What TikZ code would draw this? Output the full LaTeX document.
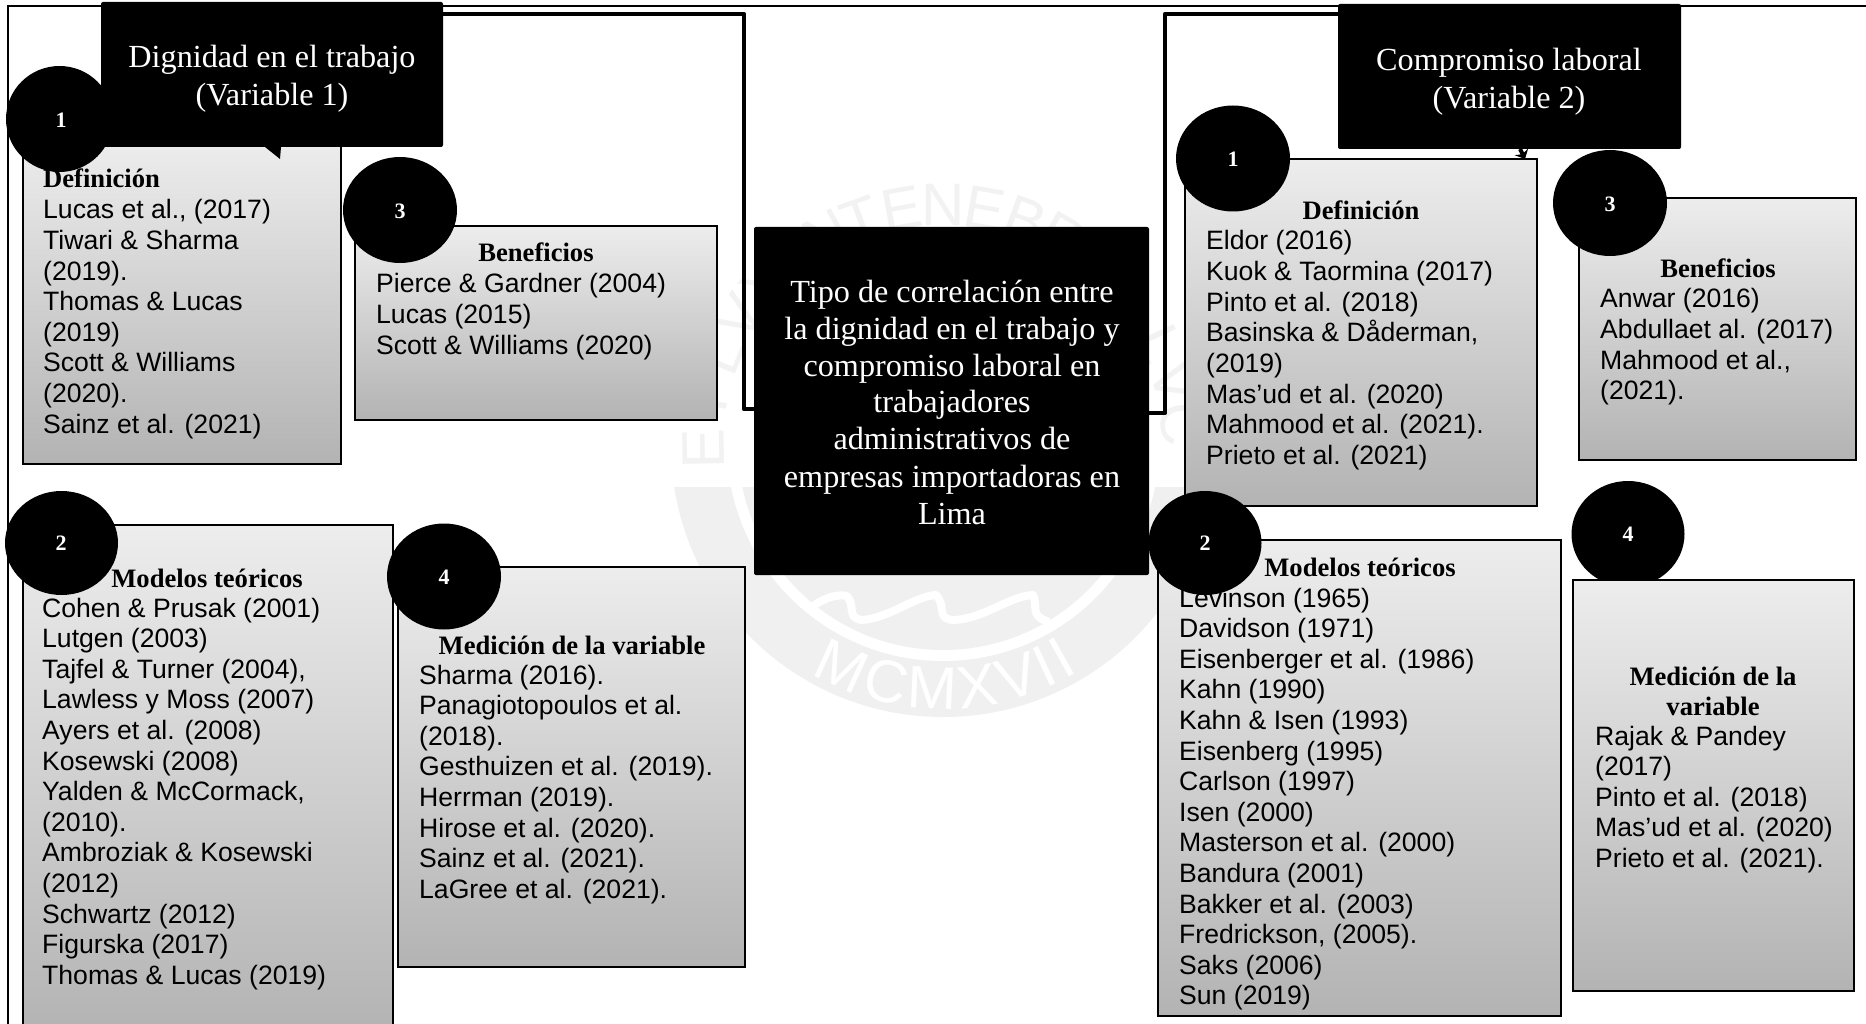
\documentclass[tikz,border=0pt]{standalone}
\usepackage{fontspec}
\setmainfont{Liberation Serif}
\setsansfont{Liberation Sans}
\usetikzlibrary{shapes.geometric,arrows.meta,decorations.text,calc}
\definecolor{wm}{HTML}{F0F0F0}
\definecolor{wmtop}{HTML}{F2F2F2}
\definecolor{gtop}{HTML}{EDEDED}
\definecolor{gbot}{HTML}{B3B3B3}
\newcommand{\reflines}[1]{\begin{tabular}[t]{@{}l@{}}#1\end{tabular}}
\newcommand{\centlines}[1]{\begin{tabular}[t]{@{}c@{}}#1\end{tabular}}
\tikzset{
  gbox/.style={draw=black,line width=1.8pt,top color=gtop,bottom color=gbot,anchor=north west,inner sep=0pt,outer sep=0pt},
  blackbox/.style={fill=black,rounded corners=2pt,anchor=north west,inner sep=0pt,outer sep=0pt},
  numdot/.style={ellipse,fill=black,inner sep=0pt,outer sep=0pt},
  numtext/.style={text=white,inner sep=0pt,font=\rmfamily\bfseries\fontsize{22}{24}\selectfont},
  reftext/.style={anchor=base west,inner sep=0pt,font=\sffamily\fontsize{26.6}{30.6}\selectfont},
  headtext/.style={anchor=base,inner sep=0pt,font=\rmfamily\bfseries\fontsize{26.6}{30.6}\selectfont},
  whitetext/.style={anchor=base,inner sep=0pt,text=white,font=\rmfamily\fontsize{32.2}{37}\selectfont},
  vartext/.style={anchor=base,inner sep=0pt,text=white,font=\rmfamily\fontsize{32.2}{38}\selectfont},
  conn/.style={draw=black,line width=4.5pt,line join=round},
  sealletter/.style={inner sep=0pt,text=wmtop,font=\sffamily\fontsize{60}{60}\selectfont},
}
\begin{document}
\begin{tikzpicture}[x=1pt,y=-1pt]
\useasboundingbox (0,0) rectangle (1866,1024);
\fill[white] (0,0) rectangle (1866,1024);
% watermark seal
\begin{scope}
  \clip (600,487) rectangle (1300,800);
  \begin{scope}[shift={(943,445)}]
    \fill[wm] (0,0) circle[radius=272pt];
    \fill[white] (0,0) circle[radius=216pt];
    \fill[wm] (0,0) circle[radius=205pt];
  \end{scope}
\end{scope}
\begin{scope}[shift={(943,445)},y=1pt]
  \foreach \l/\a [count=\i] in {E/181,T/170,L/158,V/148,X/138,I/128,N/119,T/110,E/100,N/90,E/80,B/70,R/60,L/25,V/15,C/5}
    \node[sealletter,rotate=\a-90] (seal\i) at (\a:240) {\l};
  \path[decorate,decoration={text along path,text align={fit to path},
     text={|\color{white}\sffamily\fontsize{60}{60}\selectfont|MCMXVII}}]
     (240:264) arc[start angle=240,end angle=301,radius=264pt];
\end{scope}
\draw[white,line width=8pt,line cap=round,line join=round]
  (812,607) .. controls (825,597) and (838,594) .. (847,596)
  .. controls (856,606) and (846,618) .. (862,620)
  .. controls (890,618) and (915,596) .. (936,595)
  .. controls (947,606) and (935,620) .. (955,620)
  .. controls (985,618) and (1010,596) .. (1033,595)
  .. controls (1038,606) and (1030,616) .. (1047,621);
% frame
\coordinate (frameTL) at (8,6);
\coordinate (frameTR) at (1866,6);
\coordinate (frameBL) at (8,1024);
\draw[black,line width=2pt] (frameBL) -- (frameTL) -- (frameTR);
% circle behind box
\node[numdot,minimum width=113pt,minimum height=106pt] (cRd) at (1628,534) {};
% gradient boxes
\node[gbox,minimum width=318pt,minimum height=324pt] (boxLa) at (23,140) {};
\node[gbox,minimum width=362pt,minimum height=194pt] (boxLb) at (355,226) {};
\node[gbox,minimum width=370pt,minimum height=510pt] (boxLc) at (23,525) {};
\node[gbox,minimum width=347pt,minimum height=400pt] (boxLd) at (398,567) {};
\node[gbox,minimum width=352pt,minimum height=347pt] (boxRa) at (1185,159) {};
\node[gbox,minimum width=277pt,minimum height=262pt] (boxRb) at (1579,198) {};
\node[gbox,minimum width=403pt,minimum height=476pt] (boxRc) at (1158,540) {};
\node[gbox,minimum width=281pt,minimum height=411pt] (boxRd) at (1573,580) {};
% black boxes
\node[blackbox,minimum width=342pt,minimum height=145pt] (varA) at (101,2) {};
\node[blackbox,minimum width=343pt,minimum height=145pt] (varB) at (1338,4) {};
\node[blackbox,minimum width=395pt,minimum height=348pt] (centre) at (754,227) {};
\fill[black] ($(varA.south west)+(164,0)$) -- ($(varA.south west)+(180,0)$) -- ($(varA.south west)+(179,12)$) -- cycle;
% connectors
\coordinate (kneeA1) at (744,14);
\coordinate (kneeA2) at (744,409);
\coordinate (kneeB1) at (1165,14);
\coordinate (kneeB2) at (1165,413);
\draw[conn] (varA.east |- kneeA1) -- (kneeA1) -- (kneeA2) -- (centre.west |- kneeA2);
\draw[conn] (varB.west |- kneeB1) -- (kneeB1) -- (kneeB2) -- (centre.east |- kneeB2);
\coordinate (arrowS) at (1520,0);
\coordinate (arrowE) at (1525,0);
\draw[black,line width=4pt,-{Stealth[length=8pt,width=15pt]}] (varB.south -| arrowS) -- (boxRa.north -| arrowE);
% black box text
\node[vartext] (tA) at (272,68) {\centlines{Dignidad en el trabajo\\(Variable 1)}};
\node[vartext] (tB) at (1509,71) {\centlines{Compromiso laboral\\(Variable 2)}};
\node[whitetext] (tC) at (952,302) {\centlines{Tipo de correlación entre\\la dignidad en el trabajo y\\compromiso laboral en\\trabajadores\\administrativos de\\empresas importadoras en\\Lima}};
% reference text
\node[headtext,anchor=base west] (hLa) at (43,188) {Definición};
\node[reftext] (rLa) at (43,219) {\reflines{Lucas et al., (2017)\\Tiwari \& Sharma\\(2019).\\Thomas \& Lucas\\(2019)\\Scott \& Williams\\(2020).\\Sainz et al. (2021)}};
\node[headtext] (hLb) at (536,262) {Beneficios};
\node[reftext] (rLb) at (376,293) {\reflines{Pierce \& Gardner (2004)\\Lucas (2015)\\Scott \& Williams (2020)}};
\node[headtext] (hLc) at (207,587) {Modelos teóricos};
\node[reftext] (rLc) at (42,617) {\reflines{Cohen \& Prusak (2001)\\Lutgen (2003)\\Tajfel \& Turner (2004),\\Lawless y Moss (2007)\\Ayers et al. (2008)\\Kosewski (2008)\\Yalden \& McCormack,\\(2010).\\Ambroziak \& Kosewski\\(2012)\\Schwartz (2012)\\Figurska (2017)\\Thomas \& Lucas (2019)}};
\node[headtext] (hLd) at (572,654) {Medición de la variable};
\node[reftext] (rLd) at (419,684) {\reflines{Sharma (2016).\\Panagiotopoulos et al.\\(2018).\\Gesthuizen et al. (2019).\\Herrman (2019).\\Hirose et al. (2020).\\Sainz et al. (2021).\\LaGree et al. (2021).}};
\node[headtext] (hRa) at (1361,220) {Definición};
\node[reftext] (rRa) at (1206,250) {\reflines{Eldor (2016)\\Kuok \& Taormina (2017)\\Pinto et al. (2018)\\Basinska \& Dåderman,\\(2019)\\Mas’ud et al. (2020)\\Mahmood et al. (2021).\\Prieto et al. (2021)}};
\node[headtext] (hRb) at (1718,278) {Beneficios};
\node[reftext] (rRb) at (1600,308) {\reflines{Anwar (2016)\\Abdullaet al. (2017)\\Mahmood et al.,\\(2021).}};
\node[headtext] (hRc) at (1360,576) {Modelos teóricos};
\node[reftext] (rRc) at (1179,607) {\reflines{Levinson (1965)\\Davidson (1971)\\Eisenberger et al. (1986)\\Kahn (1990)\\Kahn \& Isen (1993)\\Eisenberg (1995)\\Carlson (1997)\\Isen (2000)\\Masterson et al. (2000)\\Bandura (2001)\\Bakker et al. (2003)\\Fredrickson, (2005).\\Saks (2006)\\Sun (2019)}};
\node[headtext] (hRd) at (1713,685) {\centlines{Medición de la\\variable}};
\node[reftext] (rRd) at (1595,745) {\reflines{Rajak \& Pandey\\(2017)\\Pinto et al. (2018)\\Mas’ud et al. (2020)\\Prieto et al. (2021).}};
% number circles
\node[numdot,minimum width=107pt,minimum height=106pt] (cLa) at (59.5,119) {};
\node[numdot,minimum width=114pt,minimum height=106pt] (cLb) at (400,210) {};
\node[numdot,minimum width=113pt,minimum height=104pt] (cLc) at (61.5,543) {};
\node[numdot,minimum width=114pt,minimum height=106pt] (cLd) at (444,576.5) {};
\node[numdot,minimum width=114pt,minimum height=106pt] (cRa) at (1233,158.5) {};
\node[numdot,minimum width=114pt,minimum height=106pt] (cRb) at (1610,203) {};
\node[numdot,minimum width=113pt,minimum height=104pt] (cRc) at (1205,543) {};
\node[numtext] (nLa) at (61,120) {1};
\node[numtext] (nLb) at (400,211) {3};
\node[numtext] (nLc) at (61,543) {2};
\node[numtext] (nLd) at (444,577) {4};
\node[numtext] (nRa) at (1233,159) {1};
\node[numtext] (nRb) at (1610,204) {3};
\node[numtext] (nRc) at (1205,543) {2};
\node[numtext] (nRd) at (1628,534) {4};
\end{tikzpicture}
\end{document}
